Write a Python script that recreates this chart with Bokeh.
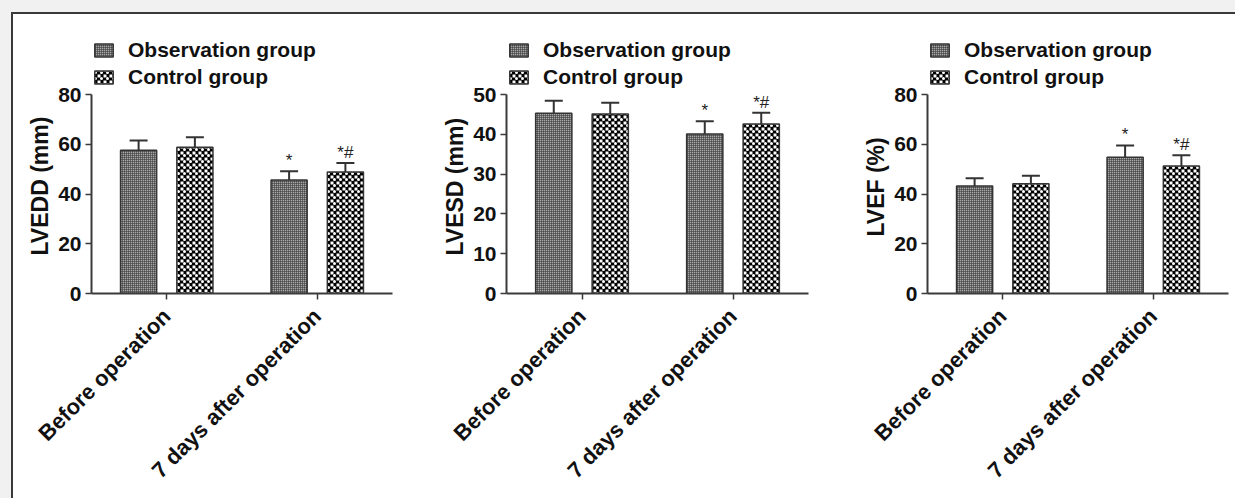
from bokeh.plotting import figure
from bokeh.models import (FactorRange, Legend, LegendItem, ColumnDataSource, Whisker,
                          TeeHead, FixedTicker, Range1d, Title)
from bokeh.transform import dodge
from bokeh.layouts import row, column
from bokeh.embed import file_html
from bokeh.resources import INLINE
from bokeh.core.properties import value
import math

# ---------------- data ----------------
categories = ["Before operation", "7 days after operation"]
groups = ["Observation group", "Control group"]

lvedd_obs = [57.6, 45.6]
lvedd_obs_err = [3.9, 3.5]
lvedd_ctrl = [58.8, 48.8]
lvedd_ctrl_err = [4.0, 3.7]

lvesd_obs = [45.3, 40.1]
lvesd_obs_err = [3.1, 3.15]
lvesd_ctrl = [45.1, 42.6]
lvesd_ctrl_err = [2.8, 2.8]

lvef_obs = [43.2, 54.8]
lvef_obs_err = [3.1, 4.7]
lvef_ctrl = [44.1, 51.3]
lvef_ctrl_err = [3.2, 4.3]

obs_marks = ["", "*"]
ctrl_marks = ["", "*#"]

ticks_lvedd = [0, 20, 40, 60, 80]
ticks_lvesd = [0, 10, 20, 30, 40, 50]
ticks_lvef = [0, 20, 40, 60, 80]

# ---------------- style ----------------
FONT = "Liberation Sans"
AX = "#3a3a3a"
FIG_H = 484
TOP = 6          # figure top -> frame top
AXIS_H = 199     # pixel height of the 0..max axis
FRAME_H = 273    # frame includes room for the legend above the axis


def make_panel(ylabel, label_offset, ticks, obs, obs_err, ctrl, ctrl_err,
               width, left, right):
    ymax = ticks[-1]
    p = figure(x_range=FactorRange(*categories),
               y_range=Range1d(0, ymax * FRAME_H / AXIS_H),
               width=width, height=FIG_H, output_backend="svg", toolbar_location=None,
               min_border_left=left, min_border_right=right, min_border_top=TOP,
               min_border_bottom=FIG_H - TOP - FRAME_H)
    p.outline_line_color = None
    p.xgrid.grid_line_color = None
    p.ygrid.grid_line_color = None
    p.background_fill_color = "white"
    p.border_fill_color = "white"

    # observation bars: fine grain
    src_o = ColumnDataSource(dict(cat=categories, val=obs,
                                  upper=[v + e for v, e in zip(obs, obs_err)],
                                  mark=obs_marks))
    xo = dodge("cat", -0.187, range=p.x_range)
    r_o = p.vbar(x=xo, top="val", width=0.24, source=src_o, fill_color="#a8a8a8",
                 line_color="#333333", line_width=1.5, hatch_pattern="+",
                 hatch_scale=2, hatch_weight=1, hatch_color="#2a2a2a")

    # control bars: coarse checker (cross + white dots)
    src_c = ColumnDataSource(dict(cat=categories, val=ctrl,
                                  upper=[v + e for v, e in zip(ctrl, ctrl_err)],
                                  mark=ctrl_marks))
    xc = dodge("cat", 0.187, range=p.x_range)
    r_c1 = p.vbar(x=xc, top="val", width=0.24, source=src_c, fill_color="white",
                  line_color=None, hatch_pattern="+", hatch_scale=6,
                  hatch_weight=3, hatch_color="black")
    r_c2 = p.vbar(x=xc, top="val", width=0.24, source=src_c, fill_alpha=0,
                  line_color="#333333", line_width=1.5, hatch_pattern=".",
                  hatch_scale=6, hatch_color="white")

    for src, xs in ((src_o, xo), (src_c, xc)):
        w = Whisker(source=src, base=xs, upper="upper", lower="val",
                    upper_head=TeeHead(size=18, line_color="#333333", line_width=2),
                    lower_head=None, line_color="#333333", line_width=2)
        p.add_layout(w)
        p.text(x=xs, y="upper", text="mark", source=src, text_align="center",
               text_baseline="bottom", y_offset=-1, text_font=value(FONT),
               text_font_size="17px", text_color="#222222")

    legend = Legend(items=[LegendItem(label=groups[0], renderers=[r_o]),
                           LegendItem(label=groups[1], renderers=[r_c1, r_c2])],
                    location=(1, AXIS_H + 4), orientation="vertical",
                    label_text_font=FONT, label_text_font_style="bold",
                    label_text_font_size="21px", label_text_color="#111111",
                    glyph_width=23, glyph_height=16, label_height=27, spacing=0,
                    padding=4, margin=0, border_line_color=None,
                    background_fill_alpha=0, label_standoff=13)
    p.add_layout(legend, "center")

    ya = p.yaxis[0]
    ya.bounds = (0, ymax)
    ya.ticker = FixedTicker(ticks=ticks)
    ya.major_label_text_font = FONT
    ya.major_label_text_font_style = "bold"
    ya.major_label_text_font_size = "21px"
    ya.major_label_text_color = "#111111"
    ya.major_label_standoff = 4
    ya.axis_line_color = AX
    ya.axis_line_width = 2
    ya.major_tick_line_color = AX
    ya.major_tick_line_width = 1.5
    ya.major_tick_out = 6
    ya.major_tick_in = 0
    ya.minor_tick_line_color = None

    p.add_layout(Title(text=ylabel, align="left", offset=label_offset,
                       text_font=FONT, text_font_style="bold",
                       text_font_size="23px", text_color="#111111",
                       standoff=6), "left")

    xa = p.xaxis[0]
    xa.major_label_orientation = math.pi / 4
    xa.major_label_text_font = FONT
    xa.major_label_text_font_style = "bold"
    xa.major_label_text_font_size = "22px"
    xa.major_label_text_color = "#111111"
    xa.major_label_standoff = 13
    xa.axis_line_color = AX
    xa.axis_line_width = 2
    xa.major_tick_line_color = AX
    xa.major_tick_line_width = 1.5
    xa.major_tick_out = 6
    xa.major_tick_in = 0
    return p


p1 = make_panel("LVEDD (mm)", 38, ticks_lvedd, lvedd_obs, lvedd_obs_err,
                lvedd_ctrl, lvedd_ctrl_err, 407, 78, 28)
p2 = make_panel("LVESD (mm)", 38, ticks_lvesd, lvesd_obs, lvesd_obs_err,
                lvesd_ctrl, lvesd_ctrl_err, 420, 86, 32)
p3 = make_panel("LVEF (%)", 57, ticks_lvef, lvef_obs, lvef_obs_err,
                lvef_ctrl, lvef_ctrl_err, 395, 87, 7)

inner = row(p1, p2, p3, styles={"border-top": "2px solid #3a3a3a",
                                "border-left": "2px solid #3a3a3a",
                                "background-color": "white"})
outer = column(inner, styles={"background-color": "#f1f1f1",
                              "padding-top": "12px", "padding-left": "11px"})

open("out.html", "w").write(file_html(outer, INLINE))
